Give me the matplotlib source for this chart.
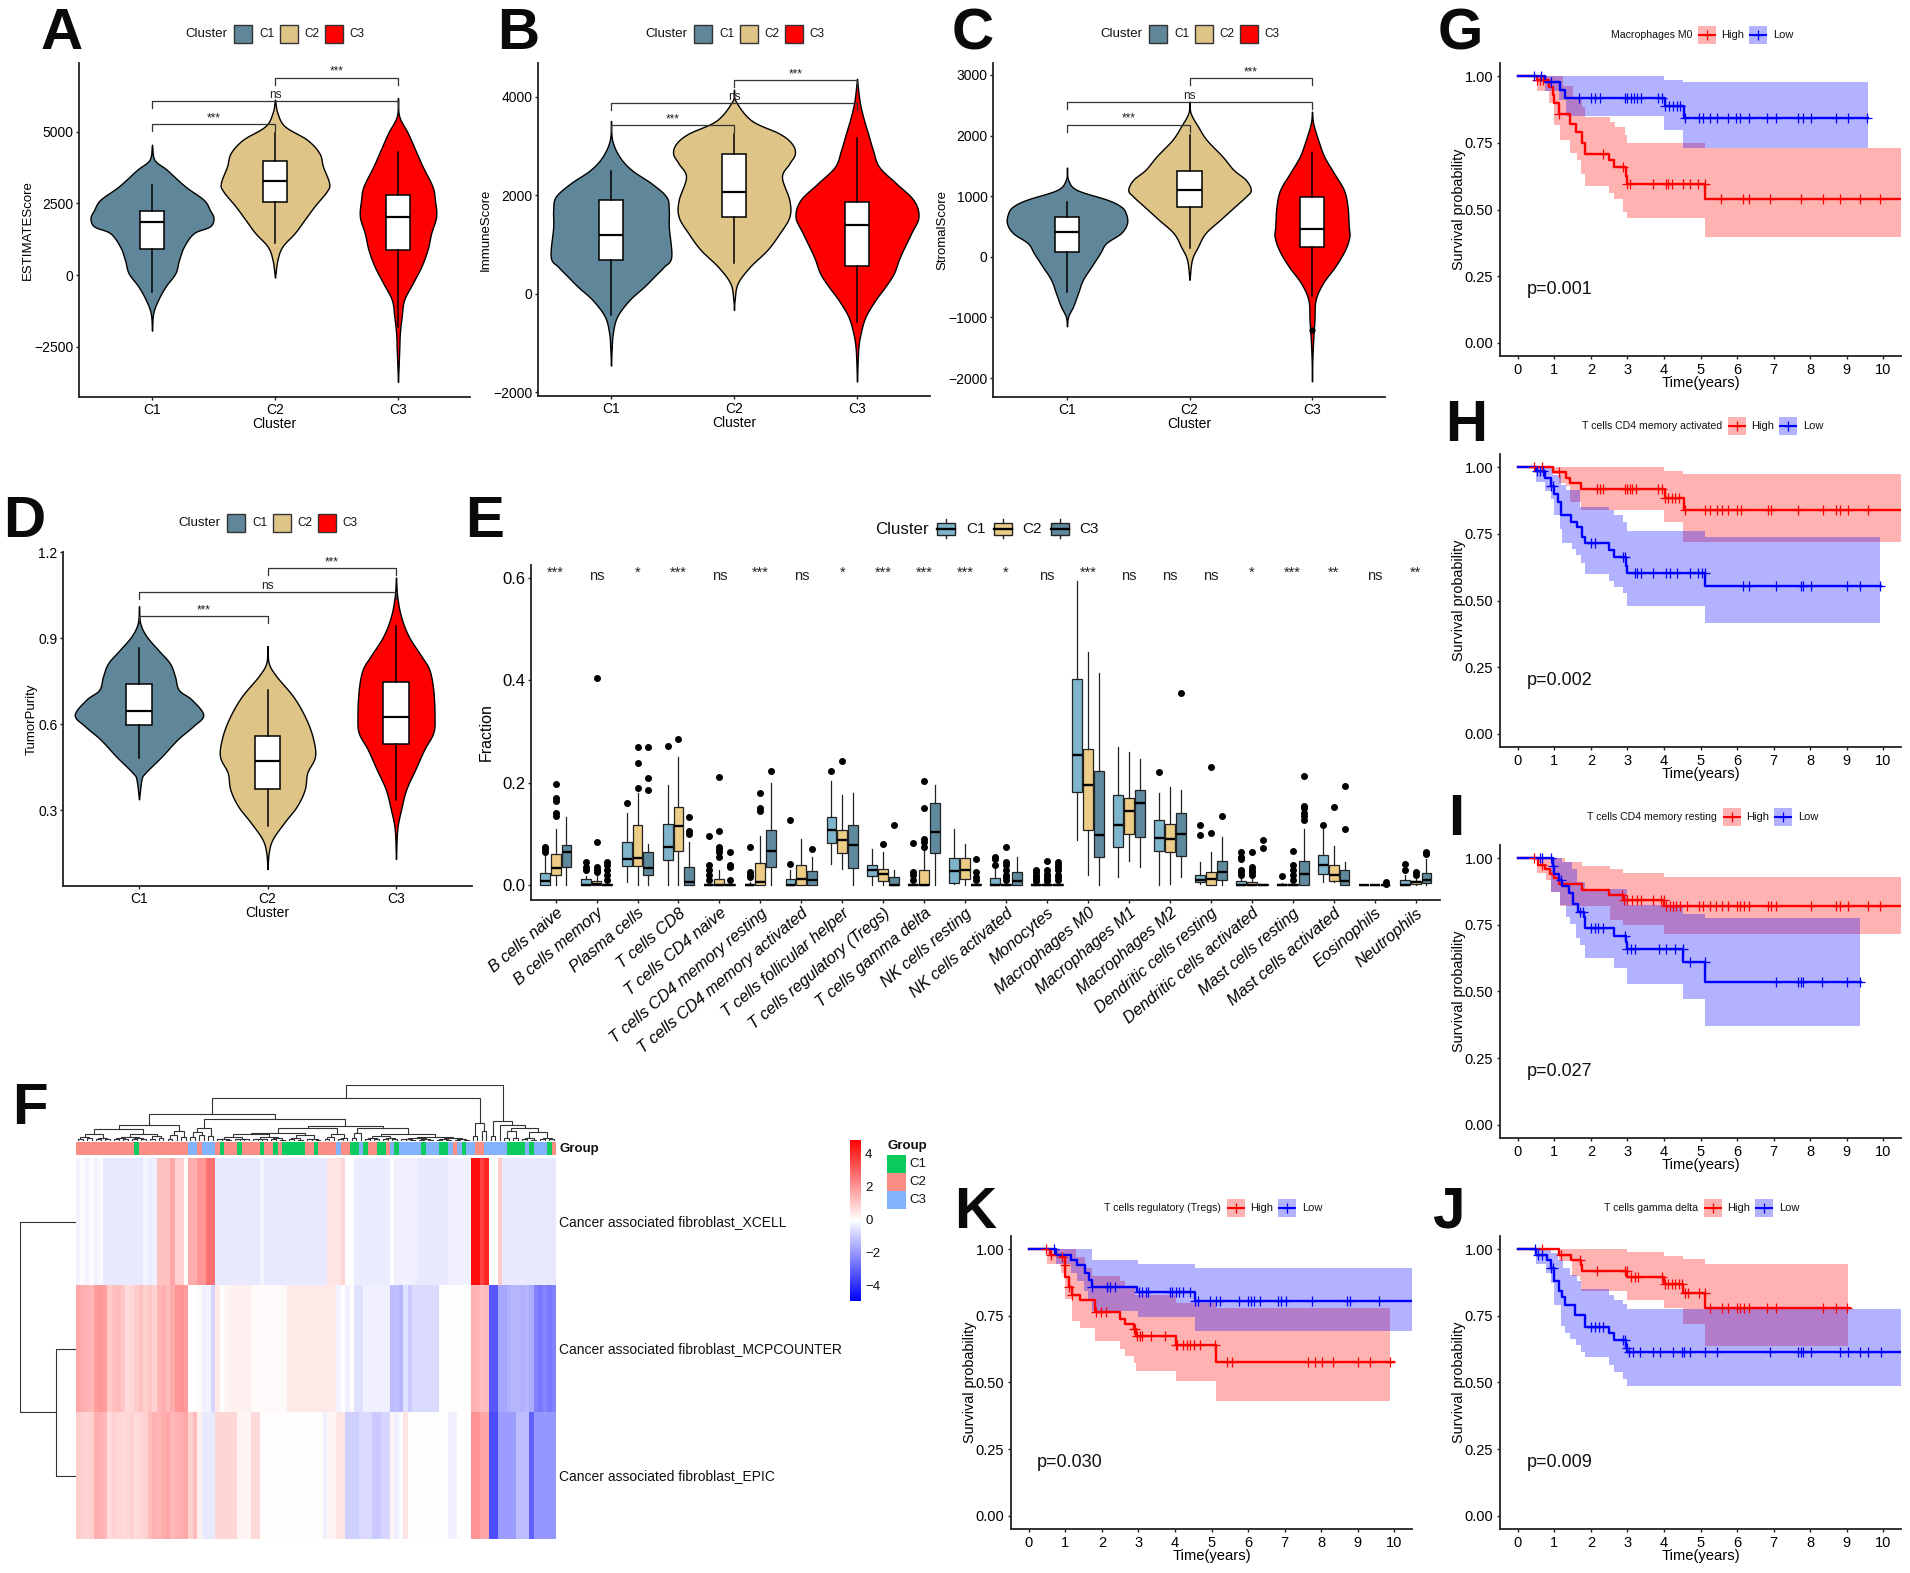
import numpy as np
import matplotlib
matplotlib.use("Agg")
import matplotlib.pyplot as plt
from matplotlib.colors import LinearSegmentedColormap
from matplotlib.patches import Rectangle

plt.rcParams['font.family'] = ['Liberation Sans', 'DejaVu Sans']
W, H = 1910, 1573
fig = plt.figure(figsize=(W / 100, H / 100), dpi=100, facecolor='white')

clusters = ['C1', 'C2', 'C3']
vcolors = ['#5F8799', '#DFC487', '#FF0000']

# ---------- violin data: density outline (value, half width) and box stats
A_y = [[4547, 4024, 3675, 3094, 2628, 2279, 1989, 1698, 1465, 1000, 535, 70, -395, -860, -1326, -1930],
       [6117, 5652, 5187, 4722, 4257, 3791, 3210, 2919, 2396, 1930, 1465, 1000, 535, -80],
       [6175, 5536, 4954, 4373, 3791, 3094, 2628, 2047, 1465, 884, 302, -279, -860, -1442, -2024, -2605, -3710]]
A_w = [[0, .02, .12, .27, .42, .47, .5, .47, .34, .26, .22, .19, .11, .05, .01, 0],
       [0, .02, .08, .26, .36, .39, .44, .42, .32, .24, .16, .06, .02, 0],
       [0, .01, .08, .14, .2, .28, .3, .31, .27, .24, .19, .12, .05, .03, .015, .01, 0]]
A_box = [(-570, 907, 1837, 2233, 3150), (1116, 2558, 3268, 3977, 4954), (-1791, 884, 2012, 2780, 4280)]
A_br = [6873, 6082, 5268]

B_y = [[3513, 3120, 2782, 2511, 2240, 1970, 1699, 1360, 751, 548, 345, 142, -129, -467, -805, -1144, -1462],
       [4149, 3932, 3526, 3255, 3052, 2849, 2646, 2376, 1902, 1563, 1225, 887, 548, 210, -129, -332],
       [4372, 3932, 3594, 3255, 2917, 2579, 2240, 1902, 1563, 1225, 751, 413, 142, -129, -467, -805, -1144, -1787]]
B_w = [[0, .01, .07, .17, .33, .45, .47, .47, .49, .43, .35, .27, .15, .05, .015, .005, 0],
       [0, .01, .14, .37, .47, .495, .45, .39, .45, .45, .37, .27, .13, .03, .005, 0],
       [0, .02, .05, .09, .13, .18, .32, .46, .5, .44, .35, .3, .23, .15, .07, .03, .01, 0]]
B_box = [(-433, 684, 1191, 1902, 2497), (616, 1563, 2071, 2849, 3255), (-569, 562, 1394, 1868, 3174)]
B_br = [4338, 3878, 3425]

C_y = [[1473, 1269, 1104, 940, 830, 720, 555, 390, 225, 60, -159, -379, -599, -819, -984, -1148],
       [2561, 2368, 2148, 1929, 1654, 1434, 1269, 1104, 995, 830, 610, 390, 170, -49, -379],
       [2396, 2203, 1929, 1654, 1379, 1104, 830, 500, 335, 115, -159, -434, -709, -1039, -1368, -1698, -2055]]
C_w = [[0, .01, .08, .33, .44, .48, .49, .44, .32, .27, .2, .13, .09, .05, .01, 0],
       [0, .01, .07, .14, .27, .36, .46, .5, .46, .37, .25, .13, .07, .02, 0],
       [0, .01, .05, .1, .18, .26, .29, .3, .305, .27, .19, .09, .03, .02, .01, .003, 0]]
C_box = [(-588, 77, 401, 665, 901), (143, 824, 1104, 1412, 2011), (-654, 159, 462, 984, 1709)]
C_out = [[], [], [-1203]]
C_br = [2945, 2561, 2176]

D_y = [[1.011, .951, .905, .858, .812, .766, .719, .685, .632, .592, .546, .488, .43, .407, .337],
       [.872, .812, .766, .696, .627, .557, .488, .43, .372, .314, .256, .198, .152, .094],
       [1.111, 1.044, .974, .905, .835, .789, .719, .627, .569, .511, .441, .372, .302, .233, .129]]
D_w = [[0, .01, .06, .15, .24, .28, .31, .41, .5, .42, .3, .18, .05, .02, 0],
       [0, .01, .07, .2, .29, .35, .37, .31, .29, .23, .13, .04, .01, 0],
       [0, .01, .04, .1, .2, .26, .29, .3, .29, .22, .15, .08, .04, .01, 0]]
D_box = [(.482, .597, .644, .74, .866), (.245, .374, .47, .557, .719), (.335, .529, .624, .745, .942)]
D_br = [1.143, 1.061, .976]

# ---------- immune fraction boxes: (low, q1, median, q3, high)
cells = ['B cells naive', 'B cells memory', 'Plasma cells', 'T cells CD8', 'T cells CD4 naive',
         'T cells CD4 memory resting', 'T cells CD4 memory activated', 'T cells follicular helper',
         'T cells regulatory (Tregs)', 'T cells gamma delta', 'NK cells resting', 'NK cells activated',
         'Monocytes', 'Macrophages M0', 'Macrophages M1', 'Macrophages M2', 'Dendritic cells resting',
         'Dendritic cells activated', 'Mast cells resting', 'Mast cells activated', 'Eosinophils', 'Neutrophils']
sig = ['***', 'ns', '*', '***', 'ns', '***', 'ns', '*', '***', '***', '***', '*', 'ns', '***', 'ns', 'ns', 'ns',
       '*', '***', '**', 'ns', '**']
E_C1 = [(0, 0, .008, .024, .058), (0, 0, 0, .011, .018), (.005, .037, .05, .085, .14), (0, .048, .075, .12, .195),
        (0, 0, 0, .002, .005), (0, 0, 0, .002, .005), (0, 0, 0, .012, .03), (.042, .082, .108, .132, .203),
        (0, .017, .03, .04, .07), (0, 0, 0, .002, .005), (.002, .003, .028, .052, .11), (0, 0, 0, .014, .032),
        (0, 0, 0, .001, .003), (.087, .182, .255, .402, .595), (.015, .075, .118, .175, .27),
        (0, .067, .092, .127, .18), (.002, .005, .01, .02, .045), (0, 0, 0, .008, .015), (0, 0, 0, .001, .003),
        (.005, .022, .04, .058, .11), (0, 0, 0, 0, 0), (0, 0, 0, .01, .02)]
E_C2 = [(0, .02, .033, .06, .11), (0, 0, .001, .008, .018), (0, .037, .053, .117, .18), (0, .067, .115, .153, .25),
        (0, 0, 0, .012, .03), (0, 0, .005, .043, .095), (0, 0, .011, .04, .09), (.032, .063, .087, .108, .175),
        (0, .007, .022, .032, .065), (0, 0, 0, .03, .07), (0, .012, .03, .052, .08), (0, 0, 0, .002, .005),
        (0, 0, 0, .001, .003), (.02, .107, .195, .265, .455), (.047, .1, .145, .17, .26),
        (.002, .065, .09, .12, .192), (0, 0, .012, .026, .065), (0, 0, 0, .005, .012), (0, 0, 0, .002, .005),
        (.005, .007, .02, .04, .077), (0, 0, 0, 0, 0), (0, .002, .005, .008, .012)]
E_C3 = [(0, .035, .065, .079, .133), (0, 0, 0, .002, .005), (0, .02, .033, .065, .08), (0, 0, .005, .036, .085),
        (0, 0, 0, .002, .005), (0, .035, .067, .108, .2), (0, 0, .009, .028, .055), (0, .033, .078, .117, .18),
        (0, 0, 0, .015, .03), (0, .063, .103, .16, .195), (0, 0, 0, .002, .005), (0, 0, .007, .026, .055),
        (0, 0, 0, .002, .003), (0, .055, .097, .222, .415), (.035, .093, .16, .185, .247),
        (.015, .057, .1, .14, .185), (0, .01, .025, .047, .093), (0, 0, 0, .001, .002), (0, 0, .021, .047, .11),
        (0, 0, .007, .03, .045), (0, 0, 0, 0, 0), (0, .003, .01, .023, .05)]
E_C1_out = [[.065, .07, .075], [.03, .035, .045], [.16], [.272], [.01, .02, .03, .04, .095], [.015, .02, .025, .075],
            [.042, .128], [.222], [], [.01, .02, .025, .083], [], [.04, .05, .055],
            [.008, .012, .016, .02, .025, .03], [], [], [.22], [.097, .118], [.02, .025, .03, .05, .055, .065],
            [.017], [.118], [], [.03, .042]]
E_C2_out = [[.135, .14, .165, .17, .198], [.025, .03, .035, .085, .405], [.19, .238, .27], [.285],
            [.055, .065, .07, .075, .105, .212], [.145, .15, .18], [], [.243], [.08],
            [.075, .085, .09, .15, .203], [], [.01, .015, .02, .03, .04, .045, .075],
            [.008, .012, .017, .022, .03, .047], [], [], [], [.102, .23], [.02, .025, .03, .035, .065],
            [.01, .02, .03, .04, .067], [.152], [], [.02, .025]]
E_C3_out = [[], [.01, .02, .03, .04, .045], [.185, .21, .27], [.1, .105, .133], [.01, .035, .04, .065], [.222],
            [.07], [], [.118], [], [.01, .015, .025, .05], [], [.01, .015, .02, .03, .035, .04, .045], [], [],
            [.375], [.135], [.072, .087], [.128, .135, .14, .15, .155, .213], [.11, .193], [.002, .005],
            [.06, .065]]
ecolors = ['#7FB5CC', '#EDCC88', '#5F8A9E']

# ---------- heatmap: run-length values per row
xcell_vals = [-.2, -.1, -.25, -.1, -.25, -.15, -.45, -.2, -.35, -.3, 1.2, 1.7, .9, 0, 1.6, 2.0, 2.7, -.45, -.2, -.45,
              .5, .8, 0, -.35, 0, -.3, -.45, -.3, 4.6, 3.6, 4.2, 0, 1.0, -.45]
xcell_n = [1, 1, 1, 1, 1, 1, 9, 1, 1, 1, 3, 1, 2, 1, 2, 2, 2, 10, 1, 14, 3, 1, 2, 8, 1, 5, 7, 5, 2, 1, 1, 2, 1, 12]
mcp_vals = [1.7, 1.6, 1.5, 1.4, 1.9, 2.0, 1.9, 1.0, 1.2, 1.3, 1.1, .7, .8, 1.0, 1.2, .9, 1.1, .9, 1.4, 1.5, 1.3, 1.6,
            2.0, 2.1, 1.9, 0, .1, -.3, -.2, -.8, .4, 0, .2, .3, .08, .45, -.2, 0, -.3, .1, -.6, -.3, -1.3, -1.2, -1.4,
            -.6, -1.0, -.7, -.7, .05, 1.5, 1.4, 1.2, 1.3, -3.2, -1.7, -1.5, -1.4, -1.4, -1.5, -1.4, -1.6, -2.4, -2.6,
            -2.3, -2.6, -2.4]
mcp_n = [1] * 25 + [2, 1, 1, 1, 1, 1, 1, 1, 5, 8, 11, 1, 1, 1, 1, 2, 6, 1, 1, 1, 1, 1, 1, 5, 7, 1, 1, 1, 1, 2, 2,
                    1, 1, 1, 1, 1, 1, 1, 1, 1, 1, 1]
epic_vals = [1.0, .9, .8, .9, 1.6, 1.5, 1.4, .7, .9, .8, .7, .8, .9, .7, .8, .9, 1.3, 1.5, 1.4, 1.6, 1.7, 1.4, 1.5, 1.6,
             1.7, .9, 1.3, .3, -.4, .8, .2, .7, .05, -.3, .2, .5, -.9, -.7, -1.0, -.8, .2, -.3, -.1, .5, 0, -.3, 0,
             2.1, 1.7, -3.4, -1.9, -1.3, -3.0, -2.0]
epic_n = [1] * 28 + [3, 5, 3, 2, 14, 1, 2, 2, 3, 3, 2, 2, 1, 1, 1, 1, 9, 2, 3, 2, 2, 2, 4, 3, 1, 5]
row_labels = ['Cancer associated fibroblast_XCELL', 'Cancer associated fibroblast_MCPCOUNTER',
              'Cancer associated fibroblast_EPIC']
group_ids = [1, 0, 1, 2, 1, 2, 1, 0, 1, 0, 1, 0, 1, 0, 1, 0, 1, 0, 1, 2, 1, 0, 2, 0, 1, 0, 1, 2, 0, 2, 0, 2, 0, 2, 1, 2,
             0, 2, 1, 2, 0, 2, 0, 2, 0, 1]
group_n = [13, 1, 11, 2, 1, 3, 1, 1, 3, 1, 4, 1, 2, 1, 1, 5, 2, 1, 4, 1, 2, 2, 1, 1, 2, 2, 1, 1, 1, 5, 1, 3, 2, 1, 1, 1,
           1, 2, 2, 5, 4, 1, 1, 3, 1, 1]
group_colors = ['#0CCB5E', '#FA8E85', '#83B3FF']
_ = None
a1 = (12, (7, (4, _, _), (5, _, _)), (6, (4, _, _), (3, _, _)))
a2 = (13, (8, (5, (3, _, _), (3, _, _)), (5, (3, _, _), (4, _, _))), (9, (4, _, _), (5, _, _)))
a3 = (18.5, (10, (4, _, _), _), (8, _, _))
n_b = (22.6, (16.7, (7, _, _), (10, _, _)), (9, _, _))
c45 = (15, (12, (7, (4, (3, _, _), (2, _, _)), (4, (3, _, _), (3, _, _))),
            (8, (4, (3, _, _), (3, _, _)), (5, (3, _, _), (2, _, _)))),
       (10, (5, (3, _, _), (2, _, _)), (4, (3, _, _), (2, _, _))))
c57 = (13, (7, (3, _, _), _), (5, (3, _, _), _))
d1 = (22.6, (14, (6, _, _), _),
      (13, (9, (5, (3, _, _), (3, _, _)), (5, (3, _, _), (3, _, _))),
       (7, (5, (4, (3, _, _), (2, _, _)), (3, (2, _, _), (2, _, _))),
        (5, (4, (2, _, _), (2, _, _)), (3, (2, _, _), (2, _, _))))))
tree = (100,
        (76, (49, (28.6, (21, a1, a2), a3), (40, n_b, (27, (22.6, c45, c57), d1))),
         (31.5, (9, _, _), (18.5, _, _))),
        (36, (9, _, _), (28.6, _, (24, (17, (5, _, _), (6, _, _)),
                                   (16, (5, (3, _, _), (2, _, _)), (6, (3, _, _), (3, _, _)))))))

# ---------- survival: each curve has steps, confidence band edges, censor times
G_hi_t = [0, .51, .86, .95, 1.0, 1.13, 1.43, 1.6, 1.75, 1.84, 2.5, 2.64, 2.95, 3.0, 5.13, 10.5]
G_hi_s = [1, .985, .96, .93, .9, .857, .82, .79, .75, .71, .685, .66, .625, .595, .54, .54]
G_hi_ut = [.51, 1.24, 1.52, 1.75, 1.84, 2.52, 2.66, 2.93, 3.0, 5.13, 10.5]
G_hi_u = [1, .9625, .92, .885, .8475, .83, .81, .78, .75, .73, .73]
G_hi_lt = [.51, .86, .99, 1.16, 1.43, 1.61, 1.72, 1.84, 2.5, 2.64, 2.89, 3.0, 5.13, 10.5]
G_hi_l = [.945, .9, .816, .7625, .7125, .685, .635, .5875, .5625, .54, .49, .4675, .3975, .3975]
G_hi_c = [.53, .6, .7, 1.13, 2.34, 2.89, 3.0, 3.07, 3.71, 4.06, 4.12, 4.23, 4.52, 4.7, 4.93, 5.12, 5.57, 6.16, 6.32,
          6.91, 7.75, 8.35, 8.81, 9.36, 9.91]
G_lo_t = [0, .75, 1.15, 1.3, 4.03, 4.55, 9.6]
G_lo_s = [1, .98, .95, .92, .89, .845, .845]
G_lo_ut = [.74, 4.01, 4.53, 9.59]
G_lo_u = [1, .9875, .979, .979]
G_lo_lt = [.74, 1.13, 1.31, 4.01, 4.53, 9.59]
G_lo_l = [.945, .91, .85, .80, .73, .73]
G_lo_c = [.44, .62, .9, 1.68, 2.0, 2.11, 2.25, 2.93, 3.0, 3.1, 3.18, 3.27, 3.37, 3.83, 3.94, 4.03, 4.14, 4.26, 4.35,
          4.44, 4.58, 4.97, 5.08, 5.25, 5.45, 5.75, 5.98, 6.09, 6.32, 6.82, 7.07, 7.66, 7.82, 8.03, 8.71, 9.03, 9.56]

H_hi_t = [0, .97, 1.32, 1.43, 1.72, 4.03, 4.55, 10.5]
H_hi_s = [1, .982, .96, .94, .917, .885, .84, .84]
H_hi_ut = [.97, 4.01, 4.53, 10.5]
H_hi_u = [1, .985, .976, .976]
H_hi_lt = [.97, 1.13, 1.31, 1.43, 1.72, 4.01, 4.53, 10.5]
H_hi_l = [.975, .94, .93, .87, .84, .795, .72, .72]
H_hi_c = [.44, .65, 1.13, 2.16, 2.25, 2.34, 2.93, 3.0, 3.07, 3.13, 3.23, 3.83, 3.94, 4.03, 4.12, 4.21, 4.31, 4.42,
          4.58, 5.13, 5.25, 5.45, 5.59, 5.75, 6.01, 6.11, 6.84, 6.93, 7.67, 8.35, 8.71, 8.81, 9.04, 9.59]
H_lo_t = [0, .5, .75, .9, .98, 1.1, 1.17, 1.45, 1.62, 1.75, 1.84, 2.5, 2.63, 2.95, 3.0, 5.13, 9.95]
H_lo_s = [1, .985, .96, .93, .9, .87, .82, .795, .775, .74, .715, .69, .665, .63, .605, .555, .555]
H_lo_ut = [.5, .95, 1.17, 1.31, 1.7, 2.5, 2.64, 2.89, 3.0, 5.13, 9.91]
H_lo_u = [1, .97, .935, .915, .85, .84, .82, .795, .76, .74, .74]
H_lo_lt = [.5, .74, .9, 1.0, 1.15, 1.2, 1.47, 1.59, 1.72, 1.84, 2.5, 2.64, 2.89, 3.0, 5.13, 9.91]
H_lo_l = [.945, .91, .88, .82, .77, .715, .695, .67, .64, .6, .575, .5525, .53, .48, .4165, .4165]
H_lo_c = [.53, .6, .68, .9, .97, 1.99, 2.11, 2.89, 2.93, 3.21, 3.27, 3.36, 3.71, 4.06, 4.17, 4.35, 4.7, 4.93, 5.04,
          5.12, 6.16, 6.32, 7.07, 7.75, 7.82, 8.03, 9.01, 9.36, 9.91]

I_hi_t = [0, .55, .75, .88, 1.0, 1.13, 1.75, 2.5, 2.9, 4.01, 10.5]
I_hi_s = [1, .975, .96, .94, .925, .905, .88, .862, .845, .82, .82]
I_hi_ut = [.51, 1.29, 1.75, 2.52, 2.89, 4.01, 10.5]
I_hi_u = [1, .985, .97, .96, .945, .93, .93]
I_hi_lt = [.51, .76, .9, 1.15, 2.52, 2.89, 4.01, 10.5]
I_hi_l = [.945, .92, .875, .82, .77, .75, .7175, .7175]
I_hi_c = [.44, .65, 2.84, 2.91, 2.98, 3.12, 3.27, 3.36, 3.69, 3.91, 3.99, 4.06, 4.17, 4.26, 4.33, 4.44, 4.63, 4.95,
          5.06, 5.27, 5.43, 5.59, 5.75, 6.0, 6.09, 6.18, 6.34, 6.84, 6.93, 7.07, 8.03, 8.71, 8.81, 9.04, 9.59, 9.91]
I_lo_t = [0, .95, 1.0, 1.13, 1.2, 1.4, 1.5, 1.65, 1.8, 1.84, 2.63, 2.95, 3.0, 4.53, 5.13, 9.4]
I_lo_s = [1, .97, .94, .92, .895, .87, .83, .8, .78, .74, .71, .685, .66, .61, .535, .535]
I_lo_ut = [.9, 1.2, 1.47, 1.61, 1.84, 3.0, 4.53, 5.13, 9.36]
I_lo_u = [1, .985, .96, .91, .885, .824, .79, .775, .775]
I_lo_lt = [.9, 1.15, 1.32, 1.43, 1.59, 1.7, 1.84, 2.63, 3.0, 4.53, 5.13, 9.36]
I_lo_l = [.875, .824, .78, .755, .70, .675, .625, .59, .53, .47, .37, .37]
I_lo_c = [.6, .65, .92, .97, 1.17, 1.7, 1.77, 1.99, 2.11, 2.2, 2.32, 2.93, 3.0, 3.1, 3.21, 3.85, 4.06, 4.31, 4.51,
          4.7, 5.12, 7.07, 7.67, 7.75, 7.82, 8.33, 9.01, 9.36]

J_hi_t = [0, 1.13, 1.45, 1.72, 1.75, 3.0, 4.01, 4.53, 5.13, 9.1]
J_hi_s = [1, .98, .96, .94, .92, .895, .87, .835, .78, .78]
J_hi_ut = [1.13, 3.0, 4.01, 4.53, 5.13, 9.04]
J_hi_u = [1, .99, .975, .965, .945, .945]
J_hi_lt = [1.13, 1.47, 1.7, 1.72, 3.0, 4.01, 4.53, 5.13, 9.04]
J_hi_l = [.955, .90, .885, .845, .81, .78, .72, .6375, .6375]
J_hi_c = [.65, 1.17, 1.7, 2.16, 2.93, 2.98, 3.1, 3.21, 3.3, 3.94, 4.03, 4.12, 4.21, 4.31, 4.4, 4.49, 4.58, 4.67, 4.95,
          5.12, 5.27, 5.59, 5.75, 6.0, 6.09, 6.18, 6.34, 6.82, 7.07, 8.35, 8.71, 9.01]
J_lo_t = [0, .5, .8, .9, .98, 1.13, 1.2, 1.3, 1.55, 1.84, 2.5, 2.63, 2.95, 3.0, 10.5]
J_lo_s = [1, .98, .96, .93, .88, .845, .82, .79, .755, .71, .685, .66, .63, .615, .615]
J_lo_ut = [.5, .9, 1.1, 1.24, 1.44, 1.61, 1.72, 2.5, 2.64, 2.89, 3.0, 10.5]
J_lo_u = [1, .985, .96, .93, .905, .88, .85, .83, .81, .795, .775, .775]
J_lo_lt = [.5, .76, .9, .99, 1.17, 1.29, 1.43, 1.59, 1.72, 1.84, 2.5, 2.64, 2.89, 3.0, 10.5]
J_lo_l = [.945, .91, .875, .79, .7125, .6875, .665, .64, .615, .594, .5675, .54, .515, .4875, .4875]
J_lo_c = [.47, .56, .65, .9, .95, 1.99, 2.11, 2.23, 2.34, 2.87, 2.93, 2.98, 3.03, 3.16, 3.35, 3.71, 3.88, 4.24, 4.49,
          4.55, 4.72, 5.11, 5.45, 6.91, 7.67, 7.75, 7.82, 8.03, 8.81, 9.04, 9.36, 9.59, 9.93]

K_hi_t = [0, .57, .89, .98, 1.0, 1.09, 1.18, 1.41, 1.82, 2.5, 2.62, 2.87, 2.94, 4.02, 5.11, 10.0]
K_hi_s = [1, .98, .97, .94, .896, .86, .83, .81, .765, .7375, .72, .70, .675, .64, .5775, .5775]
K_hi_ut = [.5, 1.29, 1.53, 1.73, 2.5, 2.62, 2.9, 4.02, 5.11, 9.9]
K_hi_u = [1, .97, .93, .9, .88, .86, .83, .80, .78, .78]
K_hi_lt = [.5, .89, .98, 1.18, 1.41, 1.82, 2.5, 2.62, 2.87, 2.94, 4.02, 5.11, 9.9]
K_hi_l = [.945, .91, .815, .73, .705, .654, .6275, .60, .575, .545, .5075, .43, .43]
K_hi_c = [.47, .61, .91, .98, 1.11, 1.19, 1.84, 1.98, 2.1, 2.87, 2.91, 2.96, 3.03, 3.11, 3.35, 3.72, 4.02, 4.06, 4.22,
          4.33, 4.42, 4.52, 4.69, 5.09, 5.42, 5.57, 7.64, 7.83, 8.03, 8.33, 9.01, 9.35, 9.9]
K_lo_t = [0, .75, 1.16, 1.32, 1.53, 1.64, 1.73, 2.97, 4.54, 10.5]
K_lo_s = [1, .98, .96, .94, .91, .885, .86, .84, .805, .805]
K_lo_ut = [.75, 1.6, 1.73, 2.99, 4.54, 10.5]
K_lo_u = [1, 1, .96, .945, .93, .93]
K_lo_lt = [.75, 1.16, 1.32, 1.51, 1.62, 1.73, 2.99, 4.54, 10.5]
K_lo_l = [.945, .91, .88, .845, .81, .77, .745, .695, .695]
K_lo_c = [.68, 1.73, 2.14, 2.23, 2.35, 3.01, 3.11, 3.2, 3.27, 3.85, 3.93, 4.02, 4.11, 4.22, 4.4, 4.54, 4.63, 4.95, 5.11,
          5.24, 5.74, 6.0, 6.09, 6.16, 6.32, 6.82, 6.89, 7.05, 7.76, 8.71, 8.79, 9.58]


# ---------- helpers
def box(l, t, r, b):
    return fig.add_axes([l / W, 1 - b / H, (r - l) / W, (b - t) / H])


ov = fig.add_axes([0, 0, 1, 1], zorder=50)
ov.set_xlim(0, W)
ov.set_ylim(H, 0)
ov.axis('off')
ov.patch.set_alpha(0)


def style(ax, pad=1.5):
    for s in ('top', 'right'):
        ax.spines[s].set_visible(False)
    for s in ('left', 'bottom'):
        ax.spines[s].set_linewidth(1.3)
        ax.spines[s].set_color('#222222')
    ax.tick_params(length=2.5, width=1, color='#222222', pad=pad)


def catmull(y, w, n=14):
    p = np.column_stack([y, w]).astype(float)
    p = np.vstack([2 * p[0] - p[1], p, 2 * p[-1] - p[-2]])
    out = []
    for i in range(1, len(p) - 2):
        t = np.linspace(0, 1, n, endpoint=False)[:, None]
        a, b, c, d = p[i - 1], p[i], p[i + 1], p[i + 2]
        out.append(.5 * (2 * b + (c - a) * t + (2 * a - 5 * b + 4 * c - d) * t ** 2 + (3 * b - a - 3 * c + d) * t ** 3))
    out.append(p[-2][None, :])
    o = np.vstack(out)
    return o[:, 0], np.clip(o[:, 1], 0, None)


def violin_panel(pos, centers, tickv, tickpx, ticks, ys, ws, boxes, br, ylabel, ylab_x, leg_x, leg_y, outs=None):
    l, t, r, b = pos
    ax = box(l, t, r, b)
    style(ax)
    u = (centers[2] - centers[0]) / 2
    ax.set_xlim((l - centers[0]) / u + 1, (r - centers[0]) / u + 1)
    per = (tickv[1] - tickv[0]) / (tickpx[1] - tickpx[0])
    ax.set_ylim(tickv[0] + (b - tickpx[0]) * per, tickv[0] + (t - tickpx[0]) * per)
    for i in range(3):
        vy, vw = catmull(ys[i], ws[i])
        ax.fill_betweenx(vy, i + 1 - vw, i + 1 + vw, facecolor=vcolors[i], edgecolor='black', lw=1.0, zorder=2)
        lo, q1, med, q3, hi = boxes[i]
        st = dict(whislo=lo, q1=q1, med=med, q3=q3, whishi=hi, fliers=(outs[i] if outs else []))
        ax.bxp([st], positions=[i + 1], widths=.2, patch_artist=True, showcaps=False, manage_ticks=False,
               boxprops=dict(facecolor='white', edgecolor='black', lw=1.1),
               medianprops=dict(color='black', lw=1.6), whiskerprops=dict(color='black', lw=1.1),
               flierprops=dict(marker='o', mfc='black', mec='black', ms=3.5), zorder=3)
    tip = 7 * abs(per)
    spans = [(2, 3, '***'), (1, 3, 'ns'), (1, 2, '***')]
    for (x1, x2, lab), yb in zip(spans, br):
        ax.plot([x1, x1, x2, x2], [yb - tip, yb, yb, yb - tip], color='#333333', lw=.9, zorder=4)
        ax.annotate(lab, ((x1 + x2) / 2, yb), xytext=(0, 2.2), textcoords='offset points', ha='center', va='baseline',
                    fontsize=8.5 if lab == 'ns' else 8.5, color='#222222', zorder=5)
    ax.set_xticks([1, 2, 3], clusters, fontsize=10)
    ax.set_yticks(ticks)
    ax.set_yticklabels([str(v).replace('-', '\u2212') for v in ticks], fontsize=10)
    ax.set_xlabel('Cluster', fontsize=10)
    ax.xaxis.set_label_coords(.5, -20 / (b - t))
    ax.set_ylabel(ylabel, fontsize=9.5)
    ax.yaxis.set_label_coords((ylab_x + 6 - l) / (r - l), .5)
    ov.text(leg_x - 2, leg_y, 'Cluster', fontsize=9.5, va='center', ha='left', color='#111111')
    for k, (dx, tx) in enumerate([(47, 72), (93, 117), (138, 162)]):
        ov.add_patch(Rectangle((leg_x + dx, leg_y - 9), 18, 18, fc=vcolors[k], ec='#333333', lw=1))
        ov.text(leg_x + tx, leg_y, clusters[k], fontsize=8.5, va='center', ha='left', color='#111111')
    return ax


def step_eval(t, s, x):
    return np.asarray(s)[np.clip(np.searchsorted(t, x, side='right') - 1, 0, len(s) - 1)]


def band(ax, ut, u, lt, l, color):
    a, b = max(ut[0], lt[0]), min(ut[-1], lt[-1])
    x = np.union1d(ut, lt)
    x = x[(x >= a) & (x <= b)]
    ax.fill_between(x, step_eval(lt, l, x), step_eval(ut, u, x), step='post', color=color, alpha=.3, lw=0, zorder=1)


def surv_panel(left, dy, title, title_right, leg_y, ptext, p_t, hi, lo):
    t, b = 63 + dy, 356 + dy
    ax = box(left, t, left + 401, b)
    style(ax, pad=2.5)
    ax.set_xlim(-.49, 10.49)
    ax.set_ylim(-.05, 1.05)
    for d, col in ((hi, '#FF0000'), (lo, '#0000FF')):
        band(ax, d[2], d[3], d[4], d[5], col)
    for d, col in ((hi, '#FF0000'), (lo, '#0000FF')):
        ax.step(d[0], d[1], where='post', color=col, lw=1.7, zorder=3)
        ax.plot(d[6], step_eval(d[0], d[1], np.array(d[6])), ls='none', marker='+', ms=7, mew=.9, color=col, zorder=4)
    ax.set_xticks(range(11))
    ax.set_yticks([0, .25, .5, .75, 1], ['0.00', '0.25', '0.50', '0.75', '1.00'])
    ax.tick_params(labelsize=10.5)
    ax.set_xlabel('Time(years)', fontsize=10.6)
    ax.xaxis.set_label_coords(.5, -(20) / (b - t))
    ax.set_ylabel('Survival probability', fontsize=10.4)
    ax.yaxis.set_label_coords(-34 / 401, .5)
    ax.text(p_t, .2, ptext, fontsize=13, va='center', ha='left', color='#111111')
    tr = title_right
    ov.text(tr, leg_y, title, fontsize=7.6, ha='right', va='center', color='#111111')
    for dx, col, lab, tx in ((6, '#FF0000', 'High', 29), (57, '#0000FF', 'Low', 81)):
        ov.add_patch(Rectangle((tr + dx, leg_y - 9), 17.5, 18, fc=col, alpha=.3, lw=0))
        ov.plot([tr + dx + 1, tr + dx + 16.5], [leg_y, leg_y], color=col, lw=1.5)
        ov.plot([tr + dx + 8.75], [leg_y], marker='+', ms=7, mew=.9, color=col)
        ov.text(tr + tx, leg_y, lab, fontsize=8, va='center', ha='left', color='#111111')
    return ax


# ---------- panels A-D
violin_panel((79, 63, 470, 397), (152, 275, 398), (5000, -2500), (131.7, 347), [-2500, 0, 2500, 5000],
             A_y, A_w, A_box, A_br, 'ESTIMATEScore', 28, 187, 34)
violin_panel((538, 63, 930, 396), (611, 734, 857), (4000, -2000), (97, 392), [-2000, 0, 2000, 4000],
             B_y, B_w, B_box, B_br, 'ImmuneScore', 486, 647, 34)
violin_panel((993, 63, 1385, 397), (1067, 1189, 1312), (3000, -2000), (75, 378),
             [-2000, -1000, 0, 1000, 2000, 3000], C_y, C_w, C_box, C_br, 'StromalScore', 942, 1102, 34, outs=C_out)
violin_panel((63, 552, 472, 886), (139, 268, 396), (1.2, .3), (552, 810), [.3, .6, .9, 1.2],
             D_y, D_w, D_box, D_br, 'TumorPurity', 32, 180, 523)

# ---------- panel E
l, t, r, b = 531, 565, 1440, 900
axE = box(l, t, r, b)
style(axE)
u = (1415.6 - 555.6) / 21
axE.set_xlim((l - 555.6) / u, (r - 555.6) / u)
per = .6 / (578 - 885)
axE.set_ylim((b - 885) * per, (t - 885) * per)
for off, data, outs, col in ((-.265, E_C1, E_C1_out, ecolors[0]), (0, E_C2, E_C2_out, ecolors[1]),
                             (.265, E_C3, E_C3_out, ecolors[2])):
    stats = [dict(whislo=d[0], q1=d[1], med=d[2], q3=d[3], whishi=d[4], fliers=o) for d, o in zip(data, outs)]
    axE.bxp(stats, positions=np.arange(22) + off, widths=.24, patch_artist=True, showcaps=False, manage_ticks=False,
            boxprops=dict(facecolor=col, edgecolor='#222222', lw=.9), medianprops=dict(color='black', lw=1.7),
            whiskerprops=dict(color='#222222', lw=.9),
            flierprops=dict(marker='o', mfc='black', mec='black', ms=4))
for i, s in enumerate(sig):
    axE.text(i, .603 if s != 'ns' else .597, s, ha='center', va='baseline', fontsize=10.5, color='#222222')
axE.set_xticks(range(22))
axE.set_xticklabels(cells, rotation=40, ha='right', va='top', rotation_mode='anchor', style='italic', fontsize=11.7)
axE.set_yticks([0, .2, .4, .6], ['0.0', '0.2', '0.4', '0.6'], fontsize=12)
axE.set_ylabel('Fraction', fontsize=11.5)
axE.yaxis.set_label_coords((488 + 6 - l) / (r - l), .5)
ov.text(875, 529, 'Cluster', fontsize=12.2, va='center', ha='left', color='#111111')
for k, (kx, tx) in enumerate([(937, 966), (994, 1022), (1051, 1079)]):
    ov.plot([kx + 9, kx + 9], [519, 538], color='#222222', lw=1)
    ov.add_patch(Rectangle((kx, 523), 18, 12, fc=ecolors[k], ec='#222222', lw=1, zorder=3))
    ov.plot([kx, kx + 18], [529, 529], color='black', lw=1.7, zorder=4)
    ov.text(tx, 529, clusters[k], fontsize=11, va='center', ha='left', color='#111111')

# ---------- panel F
hm_l, hm_r = 76, 556
vmax = 4.9
cmap = LinearSegmentedColormap.from_list('bwr2', ['#0000FF', '#FFFFFF', '#FF0000'], N=256)
matrix = np.vstack([np.repeat(xcell_vals, xcell_n), np.repeat(mcp_vals, mcp_n), np.repeat(epic_vals, epic_n)])
axH = box(hm_l, 1158, hm_r, 1539)
axH.imshow(matrix, aspect='auto', cmap=cmap, vmin=-vmax, vmax=vmax, interpolation='nearest')
axH.axis('off')
for i, lab in enumerate(row_labels):
    ov.text(559, [1222, 1349, 1476][i], lab, fontsize=10, va='center', ha='left', color='#111111')

axG = box(hm_l, 1142, hm_r, 1155)
gcol = np.repeat(group_ids, group_n)[None, :]
axG.imshow(gcol, aspect='auto', cmap=matplotlib.colors.ListedColormap(group_colors), vmin=0, vmax=2,
           interpolation='nearest')
axG.axis('off')
ov.text(559, 1149, 'Group', fontsize=9.5, fontweight='bold', va='center', ha='left', color='#111111')

axD = box(hm_l, 1085, hm_r, 1141)
axD.set_xlim(0, 107)
axD.set_ylim(0, 100)
axD.axis('off')
leaf = [0]


def draw_tree(n):
    if n is None:
        leaf[0] += 1
        return leaf[0] - .5, 0
    h, a, c = n
    xa, ha = draw_tree(a)
    xc, hc = draw_tree(c)
    axD.plot([xa, xa, xc, xc], [ha, h, h, hc], color='#333333', lw=.8, solid_joinstyle='miter')
    return (xa + xc) / 2, h


draw_tree(tree)

axR = box(20, 1158, 76, 1539)
axR.set_xlim(1, 0)
axR.set_ylim(3, 0)
axR.axis('off')
row_links = [(1.5, 2.5, .357), (.5, 2.0, 1.0)]
for y1, y2, h in row_links:
    h1 = .357 if y1 == 2.0 else 0
    h2 = .357 if y2 == 2.0 else 0
    axR.plot([h1, h, h, h2], [y1, y1, y2, y2], color='#333333', lw=.8)

axC = box(850, 1140, 861, 1301)
axC.imshow(np.linspace(vmax, -vmax, 256)[:, None], aspect='auto', cmap=cmap, vmin=-vmax, vmax=vmax)
axC.axis('off')
for v, y in zip([4, 2, 0, -2, -4], [1155, 1188, 1221, 1254, 1287]):
    ov.text(865, y, str(v).replace('-', '\u2212'), fontsize=9.5, va='center', ha='left', color='#111111')
ov.text(887, 1146, 'Group', fontsize=9.5, fontweight='bold', va='center', ha='left', color='#111111')
for k in range(3):
    ov.add_patch(Rectangle((887, 1155 + 18 * k), 19, 18, fc=group_colors[k], lw=0))
    ov.text(909, 1164 + 18 * k, clusters[k], fontsize=9.5, va='center', ha='left', color='#111111')

# ---------- panels G-K
surv_panel(1500, 0, 'Macrophages M0', 1692, 35, 'p=0.001', .24,
           (G_hi_t, G_hi_s, G_hi_ut, G_hi_u, G_hi_lt, G_hi_l, G_hi_c),
           (G_lo_t, G_lo_s, G_lo_ut, G_lo_u, G_lo_lt, G_lo_l, G_lo_c))
surv_panel(1500, 391, 'T cells CD4 memory activated', 1722, 426, 'p=0.002', .24,
           (H_hi_t, H_hi_s, H_hi_ut, H_hi_u, H_hi_lt, H_hi_l, H_hi_c),
           (H_lo_t, H_lo_s, H_lo_ut, H_lo_u, H_lo_lt, H_lo_l, H_lo_c))
surv_panel(1500, 782, 'T cells CD4 memory resting', 1717, 817, 'p=0.027', .24,
           (I_hi_t, I_hi_s, I_hi_ut, I_hi_u, I_hi_lt, I_hi_l, I_hi_c),
           (I_lo_t, I_lo_s, I_lo_ut, I_lo_u, I_lo_lt, I_lo_l, I_lo_c))
surv_panel(1500, 1173, 'T cells gamma delta', 1698, 1208, 'p=0.009', .24,
           (J_hi_t, J_hi_s, J_hi_ut, J_hi_u, J_hi_lt, J_hi_l, J_hi_c),
           (J_lo_t, J_lo_s, J_lo_ut, J_lo_u, J_lo_lt, J_lo_l, J_lo_c))
surv_panel(1011, 1173, 'T cells regulatory (Tregs)', 1221, 1208, 'p=0.030', .22,
           (K_hi_t, K_hi_s, K_hi_ut, K_hi_u, K_hi_lt, K_hi_l, K_hi_c),
           (K_lo_t, K_lo_s, K_lo_ut, K_lo_u, K_lo_lt, K_lo_l, K_lo_c))

# ---------- panel letters
letters = {'A': (41, 49), 'B': (497, 49), 'C': (952, 50), 'D': (3, 537), 'E': (465, 537), 'F': (12, 1124),
           'G': (1438, 50), 'H': (1445, 441), 'I': (1448, 835), 'J': (1432, 1228), 'K': (954, 1228)}
for k, (x, y) in letters.items():
    ov.text(x, y, k, fontsize=42, fontweight='bold', ha='left', va='baseline', color='#0A0A0A')

fig.savefig('out.png', dpi=100, facecolor='white')
